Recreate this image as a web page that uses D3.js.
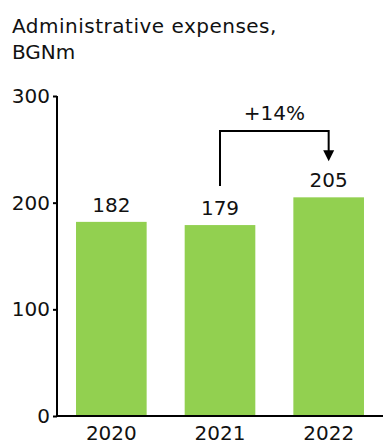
<!DOCTYPE html>
<html><head><meta charset="utf-8">
<script src="https://cdn.jsdelivr.net/npm/d3@7"></script>
<style>html,body{margin:0;padding:0;background:#fff;}svg{display:block;font-family:"DejaVu Sans",Verdana,sans-serif;}</style>
</head><body>
<script>
const categories = ["2020", "2021", "2022"];
const values = [182, 179, 205];
const yTicks = [0, 100, 200, 300];
const titleLines = ["Administrative expenses,", "BGNm"];
const changeLabel = "+14%";

const W = 383, H = 443;
const FS = 20;
const svg = d3.select("body").append("svg").attr("width", W).attr("height", H);
const x = d3.scaleBand().domain(categories).range([57, 383]).paddingInner(0.35).paddingOuter(0.175);
const y = d3.scaleLinear().domain([0, 300]).range([416, 96]);

svg.selectAll("text.title").data(titleLines).join("text")
  .attr("x", 12).attr("y", (d, i) => 33 + i * 26)
  .attr("font-size", FS).attr("letter-spacing", (d, i) => i === 0 ? 0.5 : 0)
  .attr("fill", "#111").text(d => d);

svg.selectAll("rect.bar").data(values).join("rect")
  .attr("x", (d, i) => x(categories[i])).attr("width", x.bandwidth())
  .attr("y", d => y(d)).attr("height", d => y(0) - y(d))
  .attr("fill", "#92D050");

svg.selectAll("text.val").data(values).join("text")
  .attr("x", (d, i) => x(categories[i]) + x.bandwidth() / 2)
  .attr("y", d => y(d) - 10).attr("text-anchor", "middle")
  .attr("font-size", FS).attr("fill", "#111").text(d => d);

const yAxis = svg.append("g").attr("transform", "translate(57,0)")
  .call(d3.axisLeft(y).tickValues(yTicks).tickSize(4).tickPadding(3));
yAxis.select(".domain").attr("stroke", "#000").attr("stroke-width", 2).attr("d", `M0,${y(300)}V${y(0)}`);
yAxis.selectAll(".tick line").attr("stroke", "#000").attr("stroke-width", 2);
yAxis.selectAll(".tick text").attr("font-size", FS).attr("fill", "#111").attr("font-family", "DejaVu Sans, Verdana, sans-serif");

const xAxis = svg.append("g").attr("transform", `translate(0,${y(0)})`)
  .call(d3.axisBottom(x).tickSize(0).tickPadding(10));
xAxis.select(".domain").attr("stroke", "#000").attr("stroke-width", 2).attr("d", `M56,0H383`);
xAxis.selectAll(".tick text").attr("font-size", FS).attr("fill", "#111").attr("font-family", "DejaVu Sans, Verdana, sans-serif");

// change arrow
const x1 = x("2021") + x.bandwidth() / 2, x2 = x("2022") + x.bandwidth() / 2;
const yStart = y(values[1]) - 39, yTop = 131, yTip = y(values[2]) - 36;
svg.append("path").attr("d", `M${x1},${yStart}V${yTop}H${x2}V${yTip - 10}`)
  .attr("fill", "none").attr("stroke", "#000").attr("stroke-width", 2);
svg.append("path").attr("d", `M${x2 - 5.5},${yTip - 11}L${x2 + 5.5},${yTip - 11}L${x2},${yTip}Z`).attr("fill", "#000");
svg.append("text").attr("x", (x1 + x2) / 2).attr("y", 120).attr("text-anchor", "middle")
  .attr("font-size", FS).attr("fill", "#111").text(changeLabel);
</script>
</body></html>
